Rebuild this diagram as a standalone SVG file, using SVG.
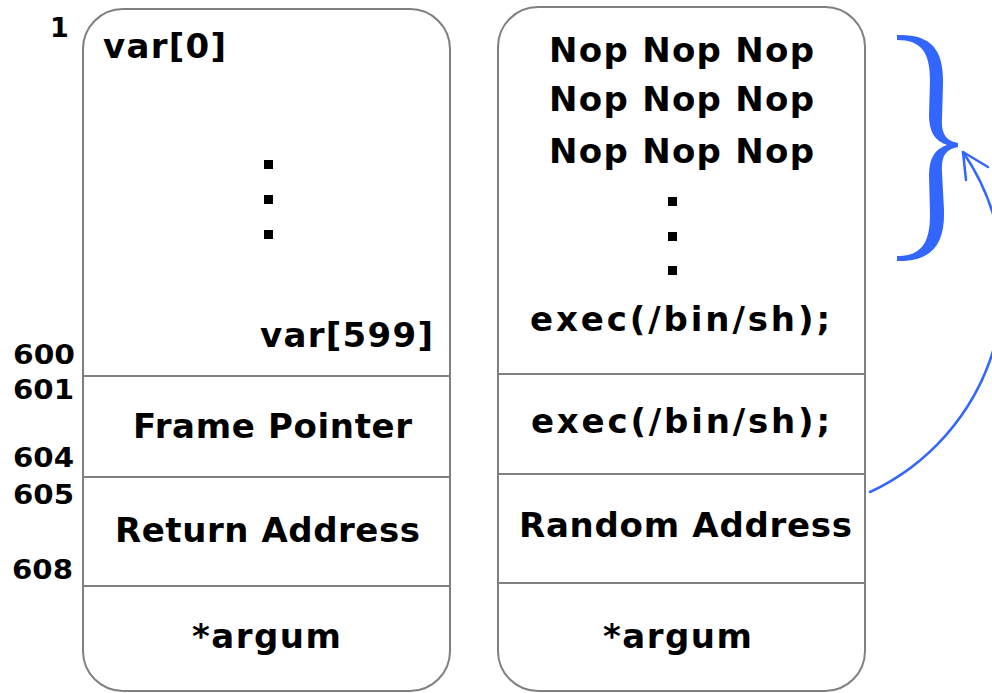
<svg xmlns="http://www.w3.org/2000/svg" width="992" height="693" viewBox="0 0 992 693">
  <style>
    .box { fill: #ffffff; stroke: #808080; stroke-width: 2; }
    .div { stroke: #808080; stroke-width: 2; fill: none; }
    .t { font-family: "DejaVu Sans", Verdana, sans-serif; font-weight: bold; font-size: 34px; fill: #000000; }
    .n { font-family: "DejaVu Sans", Verdana, sans-serif; font-weight: bold; font-size: 27px; fill: #000000; }
    .dot { fill: #000000; }
    .blue { fill: #3366ff; }
    .link { fill: none; stroke: #3366ff; stroke-width: 2.5; stroke-linecap: round; stroke-linejoin: round; }
  </style>

  <rect width="992" height="693" fill="#ffffff"/>

  <!-- address labels beside the normal stack frame -->
  <g id="offsets">
    <text class="n" x="50" y="37">1</text>
    <text class="n" x="13" y="364" textLength="62" lengthAdjust="spacingAndGlyphs">600</text>
    <text class="n" x="13" y="399" textLength="61" lengthAdjust="spacingAndGlyphs">601</text>
    <text class="n" x="13" y="467" textLength="61" lengthAdjust="spacingAndGlyphs">604</text>
    <text class="n" x="13" y="504" textLength="61" lengthAdjust="spacingAndGlyphs">605</text>
    <text class="n" x="12" y="579" textLength="61" lengthAdjust="spacingAndGlyphs">608</text>
  </g>

  <!-- normal stack frame -->
  <g id="stack-normal">
    <rect class="box" x="83" y="9" width="367" height="682" rx="40" ry="40"/>
    <line class="div" x1="83" y1="376" x2="450" y2="376"/>
    <line class="div" x1="83" y1="477" x2="450" y2="477"/>
    <line class="div" x1="83" y1="586" x2="450" y2="586"/>
    <text class="t" x="103" y="58" textLength="123" lengthAdjust="spacing">var[0]</text>
    <rect class="dot" x="264" y="160" width="9" height="9"/>
    <rect class="dot" x="264" y="195" width="9" height="9"/>
    <rect class="dot" x="264" y="230" width="9" height="9"/>
    <text class="t" x="260" y="347" textLength="173" lengthAdjust="spacing">var[599]</text>
    <text class="t" x="133" y="438" textLength="279" lengthAdjust="spacing">Frame Pointer</text>
    <text class="t" x="115" y="542" textLength="305" lengthAdjust="spacing">Return Address</text>
    <text class="t" x="192" y="648" textLength="149" lengthAdjust="spacing">*argum</text>
  </g>

  <!-- overflowed stack frame -->
  <g id="stack-overflow">
    <rect class="box" x="498" y="7" width="367" height="684" rx="40" ry="40"/>
    <line class="div" x1="498" y1="374" x2="865" y2="374"/>
    <line class="div" x1="498" y1="474" x2="865" y2="474"/>
    <line class="div" x1="498" y1="583" x2="865" y2="583"/>
    <text class="t" x="549" y="62" textLength="265" lengthAdjust="spacing">Nop Nop Nop</text>
    <text class="t" x="549" y="111" textLength="265" lengthAdjust="spacing">Nop Nop Nop</text>
    <text class="t" x="549" y="163" textLength="265" lengthAdjust="spacing">Nop Nop Nop</text>
    <rect class="dot" x="668" y="197" width="9" height="9"/>
    <rect class="dot" x="668" y="232" width="9" height="9"/>
    <rect class="dot" x="668" y="266" width="9" height="9"/>
    <text class="t" x="530" y="331" textLength="300" lengthAdjust="spacing">exec(/bin/sh);</text>
    <text class="t" x="531" y="433" textLength="299" lengthAdjust="spacing">exec(/bin/sh);</text>
    <text class="t" x="519" y="537" textLength="333" lengthAdjust="spacing">Random Address</text>
    <text class="t" x="603" y="648" textLength="149" lengthAdjust="spacing">*argum</text>
  </g>

  <!-- brace grouping the NOP sled -->
  <g id="nop-brace">
    <path class="blue" d="M897,35 C932,34 944,50 943,85 L942,118 C941,134 946,141 958,143 L958,147 C946,149 941,156 942,172 L944,210 C945,243 933,262 897,261 L897,256 C921,256 930,244 930,214 L929,175 C929,158 935,149 947,145 C935,141 929,132 929,115 L930,80 C930,52 921,40 897,40 Z"/>
  </g>

  <!-- jump from the overwritten return address into the sled -->
  <g id="connectors">
    <path class="link" d="M870,492 A231,231 0 0 0 963,152"/>
    <path class="link" d="M966,180 L963,152 L988,167"/>
  </g>
</svg>
